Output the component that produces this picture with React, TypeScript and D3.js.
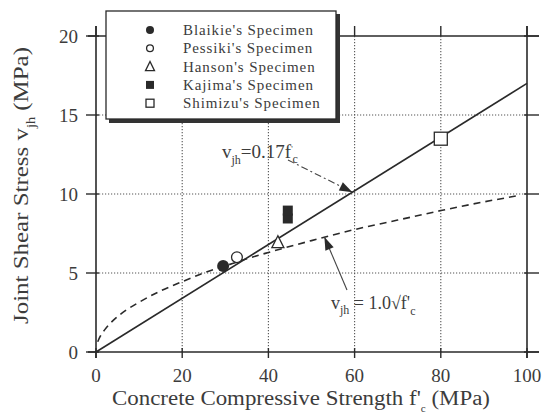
import React from "react";
import * as d3 from "d3";

const xTicks = [0, 20, 40, 60, 80, 100];
const yTicks = [0, 5, 10, 15, 20];

const legendLabels = [
  "Blaikie's Specimen",
  "Pessiki's Specimen",
  "Hanson's Specimen",
  "Kajima's Specimen",
  "Shimizu's Specimen",
];
const legendShapes = ["filledCircle", "openCircle", "openTriangle", "filledSquare", "openSquare"];

// specimen points (series index, f'c, vjh)
const pointSeries = [0, 1, 2, 3, 3, 4];
const pointF = [29.5, 32.7, 42.2, 44.5, 44.5, 80];
const pointV = [5.45, 6.0, 6.95, 8.45, 8.95, 13.5];

// design line vjh = 0.17 f'c (read endpoints)
const lineF = [0, 100];
const lineV = [0, 17];

// curve vjh = 1.0 sqrt(f'c)
const curveF = [0.4, 1, 2, 4, 7, 10, 15, 20, 25, 30, 35, 40, 50, 60, 70, 80, 90, 98];
const curveV = [0.65, 1.0, 1.4, 2.0, 2.65, 3.15, 3.87, 4.45, 5.0, 5.45, 5.9, 6.3, 7.05, 7.75, 8.35, 8.95, 9.5, 9.9];

const FONT = "'Liberation Serif', 'Times New Roman', serif";
const TEXT = "#3c3c3c";
const INK = "#2a2a2a";

function Marker({ shape, cx, cy, s }: { shape: string; cx: number; cy: number; s: number }) {
  if (shape === "filledCircle") return <circle cx={cx} cy={cy} r={s / 2} fill={INK} />;
  if (shape === "openCircle")
    return <circle cx={cx} cy={cy} r={s / 2 - 0.6} fill="#fff" stroke={INK} strokeWidth={1.3} />;
  if (shape === "openTriangle") {
    const h = s * 0.9;
    const pts = [
      [cx, cy - h / 2 - 1],
      [cx - s / 2, cy + h / 2],
      [cx + s / 2, cy + h / 2],
    ];
    return <polygon points={pts.map((p) => p.join(",")).join(" ")} fill="#fff" stroke={INK} strokeWidth={1.3} />;
  }
  if (shape === "filledSquare")
    return <rect x={cx - s / 2} y={cy - s / 2} width={s} height={s} fill={INK} />;
  return (
    <rect x={cx - s / 2} y={cy - s / 2} width={s} height={s} fill="#fff" stroke={INK} strokeWidth={1.3} />
  );
}

export default function App() {
  const W = 547;
  const H = 414;
  const x = d3.scaleLinear().domain([0, 100]).range([96, 527]);
  const y = d3.scaleLinear().domain([0, 20]).range([352, 36]);

  const lineGen = d3
    .line<number>()
    .x((_, i) => x(lineF[i]))
    .y((d) => y(d));
  const curveGen = d3
    .line<number>()
    .x((_, i) => x(curveF[i]))
    .y((d) => y(d))
    .curve(d3.curveMonotoneX);

  const [x0, x1] = x.range();
  const [y0, y1] = y.range();
  const tk = 10;

  const a1Tip: [number, number] = [x(59.5), y(59.5 * 0.17)];
  const a1Start: [number, number] = [288, 160];
  const a2Tip: [number, number] = [x(53), y(7.28)];
  const a2Start: [number, number] = [347, 290];

  const arrowHead = (from: [number, number], to: [number, number], len: number, wid: number) => {
    const dx = to[0] - from[0];
    const dy = to[1] - from[1];
    const L = Math.hypot(dx, dy);
    const ux = dx / L;
    const uy = dy / L;
    const bx = to[0] - ux * len;
    const by = to[1] - uy * len;
    const px = -uy * wid;
    const py = ux * wid;
    return `${to[0]},${to[1]} ${bx + px},${by + py} ${bx - px},${by - py}`;
  };

  return (
    <svg width={W} height={H} style={{ position: "absolute", left: 0, top: 0, background: "#fff" }}>
      <rect width={W} height={H} fill="#fff" />
      {/* grid */}
      {xTicks
        .filter((t) => t > 0 && t < 100)
        .map((t) => (
          <line key={"gx" + t} x1={x(t)} x2={x(t)} y1={y1} y2={y0} stroke="#555" strokeWidth={1.1} strokeDasharray="1.2,1.8" />
        ))}
      {yTicks
        .filter((t) => t > 0 && t < 20)
        .map((t) => (
          <line key={"gy" + t} x1={x0} x2={x1} y1={y(t)} y2={y(t)} stroke="#555" strokeWidth={1.1} strokeDasharray="1.2,1.8" />
        ))}
      {/* frame */}
      <line x1={x0 - tk + 2} x2={x1 + tk + 2} y1={y0} y2={y0} stroke={INK} strokeWidth={1.6} />
      <line x1={x0 - tk + 2} x2={x1 + tk + 2} y1={y1} y2={y1} stroke={INK} strokeWidth={1.6} />
      <line x1={x0} x2={x0} y1={y1 - tk} y2={y0 + 6} stroke={INK} strokeWidth={1.6} />
      <line x1={x1} x2={x1} y1={y1 - tk} y2={y0 + 6} stroke={INK} strokeWidth={1.6} />
      {/* ticks */}
      {xTicks.map((t) => (
        <g key={"tx" + t}>
          <line x1={x(t)} x2={x(t)} y1={y0 - 4} y2={y0 + 6} stroke={INK} strokeWidth={1.4} />
          <line x1={x(t)} x2={x(t)} y1={y1 - tk} y2={y1} stroke={INK} strokeWidth={1.4} />
        </g>
      ))}
      {yTicks.map((t) => (
        <g key={"ty" + t}>
          <line x1={x0 - tk} x2={x0 + 3} y1={y(t)} y2={y(t)} stroke={INK} strokeWidth={1.4} />
          <line x1={x1 - 3} x2={x1 + tk + 2} y1={y(t)} y2={y(t)} stroke={INK} strokeWidth={1.4} />
        </g>
      ))}
      {/* tick labels */}
      {xTicks.map((t) => (
        <text key={"lx" + t} x={x(t)} y={382} textAnchor="middle" fontFamily={FONT} fontSize={19} fill={TEXT}>
          {t}
        </text>
      ))}
      {yTicks.map((t) => (
        <text key={"ly" + t} x={78} y={y(t) + 6.5} textAnchor="end" fontFamily={FONT} fontSize={19} fill={TEXT}>
          {t}
        </text>
      ))}
      {/* axis titles */}
      <text x={112} y={405} fontFamily={FONT} fontSize={20.5} fill={TEXT} textLength={378} lengthAdjust="spacingAndGlyphs">
        Concrete Compressive Strength f
        <tspan>'</tspan>
        <tspan fontSize={10} dy={7}>c</tspan>
        <tspan dy={-7}> (MPa)</tspan>
      </text>
      <text
        transform="translate(28,324) rotate(-90)"
        fontFamily={FONT}
        fontSize={21}
        fill={TEXT}
        textLength={277}
        lengthAdjust="spacingAndGlyphs"
      >
        Joint Shear Stress v<tspan fontSize={12} dy={7}>jh</tspan>
        <tspan dy={-7}> (MPa)</tspan>
      </text>

      {/* curves */}
      <path d={curveGen(curveV) || ""} fill="none" stroke={INK} strokeWidth={1.6} strokeDasharray="7,5" />
      <path d={lineGen(lineV) || ""} fill="none" stroke={INK} strokeWidth={1.6} />

      {/* points */}
      {pointSeries.map((s, i) => (
        <Marker key={"p" + i} shape={legendShapes[s]} cx={x(pointF[i])} cy={y(pointV[i])} s={s === 3 ? 10 : s === 4 ? 13 : 12} />
      ))}

      {/* annotations */}
      <line x1={a1Start[0]} y1={a1Start[1]} x2={a1Tip[0]} y2={a1Tip[1]} stroke="#444" strokeWidth={1.1} strokeDasharray="7,3,2,3" />
      <polygon points={arrowHead(a1Start, a1Tip, 13, 4.5)} fill={INK} />
      <text x={222} y={158} fontFamily={FONT} fontSize={19} fill={TEXT}>
        v<tspan fontSize={12} dy={6}>jh</tspan>
        <tspan dy={-6}>=0.17f</tspan>
        <tspan fontSize={8} dy={-6}>'</tspan>
        <tspan fontSize={12} dy={11}>c</tspan>
      </text>
      <line x1={a2Start[0]} y1={a2Start[1]} x2={a2Tip[0]} y2={a2Tip[1]} stroke="#444" strokeWidth={1.1} />
      <polygon points={arrowHead(a2Start, a2Tip, 13, 4.5)} fill={INK} />
      <text x={331} y={309} fontFamily={FONT} fontSize={18} fill={TEXT}>
        v<tspan fontSize={12} dy={5}>jh</tspan>
        <tspan dy={-5}> = 1.0√f'</tspan>
        <tspan fontSize={12} dy={6}>c</tspan>
      </text>

      {/* legend */}
      <rect x={109} y={14} width={231} height={109} fill="#333" />
      <rect x={106} y={11} width={230} height={108} fill="#fff" stroke={INK} strokeWidth={1.3} />
      {legendLabels.map((lab, i) => {
        const cy = 30 + i * 18.3;
        return (
          <g key={"lg" + i}>
            <Marker shape={legendShapes[i]} cx={150} cy={cy} s={i === 2 ? 9 : 8} />
            <text x={183} y={cy + 5} fontFamily={FONT} fontSize={15} fill={TEXT} letterSpacing={0.9}>
              {lab}
            </text>
          </g>
        );
      })}
    </svg>
  );
}
